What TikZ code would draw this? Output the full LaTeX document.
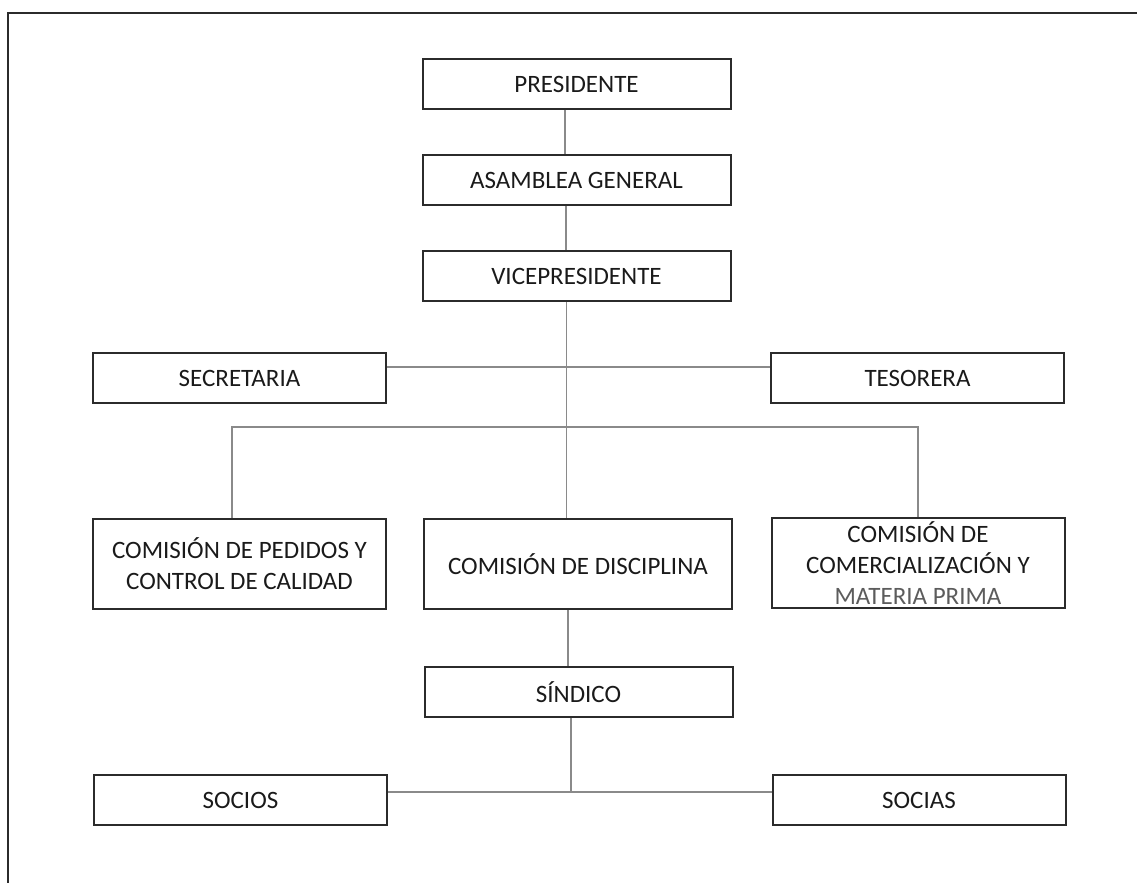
\documentclass[tikz,border=0pt]{standalone}
\usepackage{fontspec}
\setmainfont{Carlito}
\usetikzlibrary{positioning,calc}
\definecolor{orgLine}{HTML}{2B2B2B}
\definecolor{orgLink}{HTML}{8A8A8A}
\definecolor{orgText}{HTML}{1A1A1A}
\definecolor{orgFaint}{HTML}{5C5C5C}
\tikzset{
  orgnode/.style={
    draw=orgLine, line width=1pt, minimum height=25pt, inner sep=2pt,
    align=center, text=orgText, font=\fontsize{12.5}{15.5}\selectfont
  },
  central/.style={orgnode, minimum width=154pt},
  side/.style={orgnode, minimum width=146.5pt},
  commission/.style={minimum height=45pt},
  link/.style={draw=orgLink, line width=0.7pt},
  frameline/.style={draw=orgLine, line width=1pt}
}
\begin{document}
\begin{tikzpicture}[x=0.5pt, y=-0.5pt, node distance=22pt]
  \useasboundingbox (0,0) rectangle (1137,883);
  \draw[frameline] (8,883) -- (8,13) -- (1137,13);
  % upper column
  \node[central] (pres) at (576.5,84) {PRESIDENTE};
  \node[central, below=of pres] (asam) {ASAMBLEA GENERAL};
  \node[central, below=of asam] (vice) {VICEPRESIDENTE};
  \node[side] (secr) at (239.5,378) {SECRETARIA};
  \node[side] (teso) at (917.5,378) {TESORERA};
  % comisiones
  \node[side, commission] (ped) at (239.5,564) {COMISIÓN DE PEDIDOS Y\\CONTROL DE CALIDAD};
  \node[central, commission] (disc) at (578,564) {COMISIÓN DE DISCIPLINA};
  \node[side, commission] (com) at (918,563)
    {COMISIÓN DE\\COMERCIALIZACIÓN Y\\\textcolor{orgFaint}{MATERIA PRIMA}};
  % base
  \node[central] (sind) at (578.5,692) {SÍNDICO};
  \node[side] (socios) at (240.5,800) {SOCIOS};
  \node[side] (socias) at (919,800) {SOCIAS};
  \coordinate (bus) at (575,427);
  \coordinate (base) at (571,792);
  % connectors
  \draw[link] ([xshift=-5.75pt]pres.south) -- ([xshift=-5.75pt]asam.north);
  \draw[link] ([xshift=-5.25pt]asam.south) -- ([xshift=-5.25pt]vice.north);
  \draw[link] ([xshift=-5pt]vice.south) -- ([xshift=-5pt]vice.south |- disc.north);
  \draw[link] ([yshift=5.5pt]secr.east) -- ([yshift=5.5pt]teso.west);
  \draw[link] ([xshift=-3.75pt]ped.north) |- (bus) -| (com.north);
  \draw[link] ([xshift=-5pt]disc.south) -- ([xshift=-5pt]disc.south |- sind.north);
  \draw[link] ([xshift=-3.75pt]sind.south) -- (base);
  \draw[link] (socios.east |- base) -- (socias.west |- base);
\end{tikzpicture}
\end{document}
